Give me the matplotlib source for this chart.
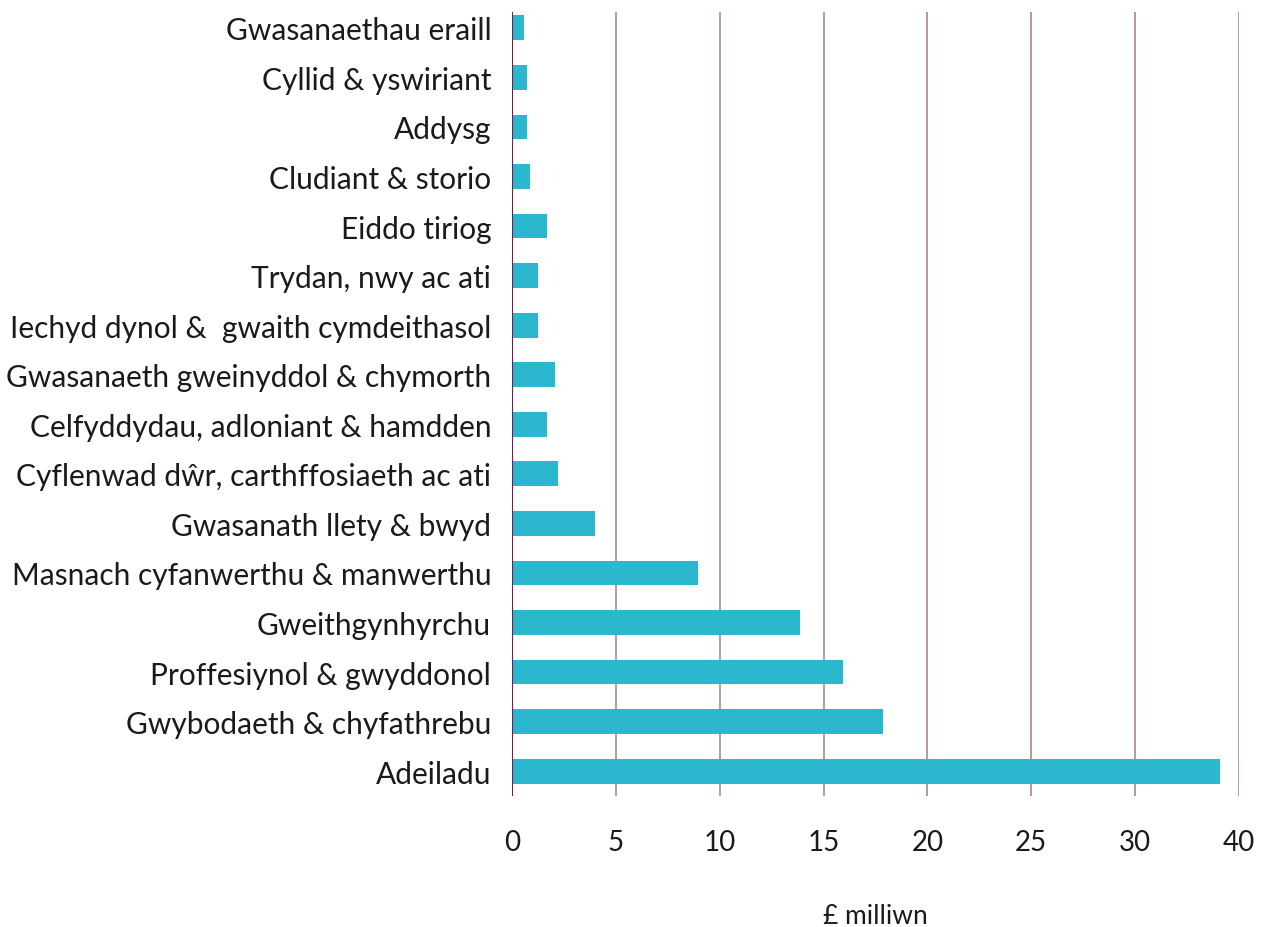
import matplotlib
matplotlib.use("Agg")
import matplotlib.pyplot as plt
import numpy as np

# categories top to bottom, as in the picture
categories = [
    "Gwasanaethau eraill",
    "Cyllid & yswiriant",
    "Addysg",
    "Cludiant & storio",
    "Eiddo tiriog",
    "Trydan, nwy ac ati",
    "Iechyd dynol &  gwaith cymdeithasol",
    "Gwasanaeth gweinyddol & chymorth",
    "Celfyddydau, adloniant & hamdden",
    "Cyflenwad dŵr, carthffosiaeth ac ati",
    "Gwasanath llety & bwyd",
    "Masnach cyfanwerthu & manwerthu",
    "Gweithgynhyrchu",
    "Proffesiynol & gwyddonol",
    "Gwybodaeth & chyfathrebu",
    "Adeiladu",
]
values = [0.58, 0.72, 0.72, 0.87, 1.67, 1.24, 1.24, 2.06, 1.67, 2.2,
          4.0, 8.95, 13.87, 15.94, 17.87, 34.1]

tick_pos = [0, 5, 10, 15, 20, 25, 30, 35]
tick_labels = ["0", "5", "10", "15", "20", "25", "30", "40"]

BAR = "#2bb8cf"
AXIS = "#6e1f4e"
GRID = "#b48ca2"
TXT = "#1a1a1a"

plt.rcParams["font.family"] = ["Lato", "DejaVu Sans"]

fig = plt.figure(figsize=(12.61, 9.28), dpi=100)
ax = fig.add_axes([512 / 1261, 1 - 797 / 928, 727 / 1261, 784 / 928])

y = np.arange(len(categories))[::-1]
ax.barh(y, values, height=0.5, color=BAR, zorder=3)

ax.set_xlim(0, 35)
ax.set_ylim(-0.5, 15.32)
ax.set_xticks(tick_pos)
ax.set_xticklabels(tick_labels)
ax.set_yticks(y)
ax.set_yticklabels(categories)

for x in tick_pos[1:]:
    ax.axvline(x, color=GRID, lw=1.3, zorder=1)
ax.axvline(0, color=AXIS, lw=1.5, zorder=4)

for s in ax.spines.values():
    s.set_visible(False)
ax.tick_params(axis="y", length=0, labelcolor=TXT, labelsize=21.5, pad=15)
ax.tick_params(axis="x", length=0, labelcolor=TXT, labelsize=20, pad=24)

ax.set_xlabel("£ milliwn", fontsize=19, color=TXT, va="center")
ax.xaxis.set_label_coords(0.5, -0.153)

fig.savefig("out.png", dpi=100)
